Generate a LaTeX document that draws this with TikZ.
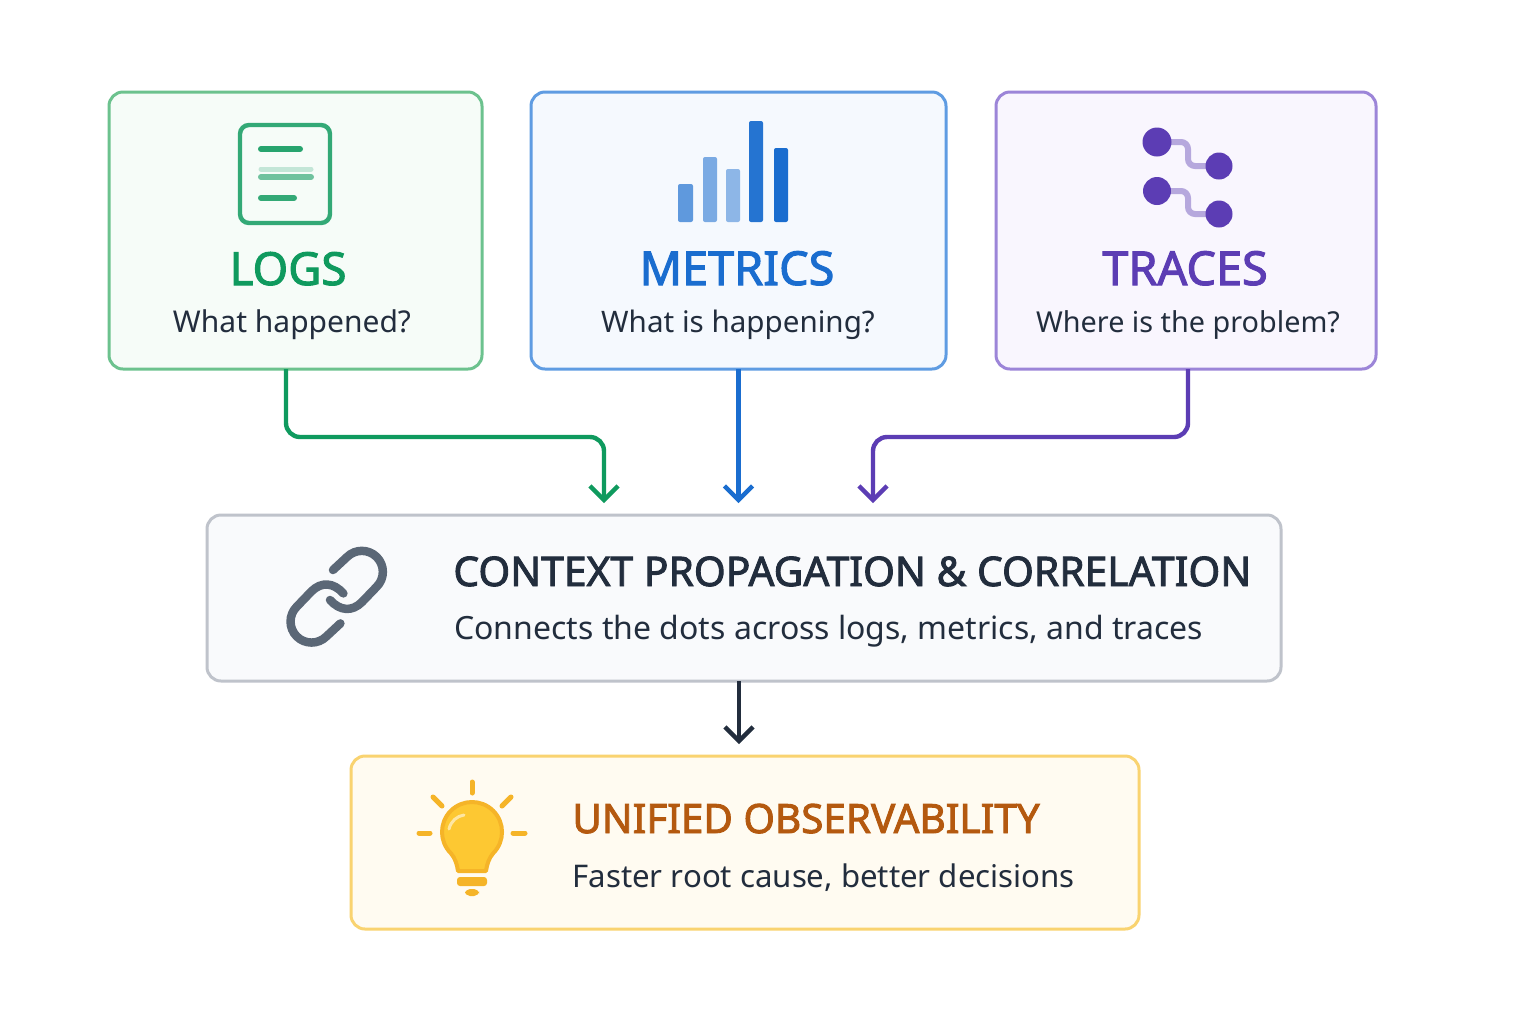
\documentclass[tikz,border=0pt]{standalone}
\usepackage{fontspec}
\setmainfont{Noto Sans}
\newfontfamily\titlefont[FakeBold=2.2]{Noto Sans}
\usetikzlibrary{calc,arrows.meta}
\definecolor{logsc}{HTML}{0F9A5E}
\definecolor{logsb}{HTML}{6CC28E}
\definecolor{logsf}{HTML}{F6FCF8}
\definecolor{metc}{HTML}{1A6DCF}
\definecolor{metb}{HTML}{5F9CE2}
\definecolor{metf}{HTML}{F5F9FE}
\definecolor{trac}{HTML}{5C3DB4}
\definecolor{trab}{HTML}{9C85D8}
\definecolor{traf}{HTML}{F9F6FE}
\definecolor{ctxc}{HTML}{222D3D}
\definecolor{ctxb}{HTML}{BFC3CB}
\definecolor{ctxf}{HTML}{F9FAFC}
\definecolor{ctxi}{HTML}{5B6776}
\definecolor{resc}{HTML}{B4590F}
\definecolor{resb}{HTML}{F9D370}
\definecolor{resf}{HTML}{FFFBF1}
\definecolor{bulbc}{HTML}{F5B428}
\definecolor{bulbf}{HTML}{FDC832}
\begin{document}
\begin{tikzpicture}[%
    x=0.5pt,y=-0.5pt,%
    cardbox/.style={draw,line width=1.5pt,rounded corners=7pt,anchor=north west,inner sep=0pt,outer sep=0pt},%
    title/.style={inner sep=0pt,anchor=base,font=\titlefont\fontsize{#1}{24pt}\selectfont},%
    subtitle/.style={inner sep=0pt,anchor=base,text=ctxc,font=\fontsize{#1}{19pt}\selectfont},%
    flow/.style={line width=2.2pt,rounded corners=7pt,-{Straight Barb[length=7pt,width=14pt,line join=miter]}},%
    bar/.style={rounded corners=1pt},%
    ray/.style={draw=bulbc,line width=2.5pt,line cap=round},%
    link/.style={trac!45,line width=3pt,rounded corners=3.5pt}%
    ]
    \useasboundingbox[fill=white] (0,0) rectangle (1536,1024);

    %
    % Boîtes
    %
    \node[cardbox,draw=logsb,fill=logsf,minimum width=186.5pt,minimum height=138.5pt] (logs) at (109,92) {};
    \node[cardbox,draw=metb,fill=metf,minimum width=207.5pt,minimum height=138.5pt] (metrics) at (531,92) {};
    \node[cardbox,draw=trab,fill=traf,minimum width=190pt,minimum height=138.5pt] (traces) at (996,92) {};
    \node[cardbox,draw=ctxb,fill=ctxf,minimum width=537pt,minimum height=83pt] (context) at (207,515) {};
    \node[cardbox,draw=resb,fill=resf,minimum width=394pt,minimum height=86.5pt] (unified) at (351,756) {};

    % Textes
    \node[title=22.8pt,text=logsc] (logstitle) at (288,285) {LOGS};
    \node[subtitle=15pt] (logstext) at (292,332) {What happened?};
    \node[title=23.4pt,text=metc] (mettitle) at (737,285) {METRICS};
    \node[subtitle=14.8pt] (mettext) at (738,332) {What is happening?};
    \node[title=23.4pt,text=trac] (tratitle) at (1185,285) {TRACES};
    \node[subtitle=14.4pt] (tratext) at (1188,332) {Where is the problem?};
    \node[title=20.4pt,text=ctxc,anchor=base west] (ctxtitle) at (453,586) {CONTEXT PROPAGATION \& CORRELATION};
    \node[subtitle=16pt,anchor=base west] (ctxtext) at (454,639) {Connects the dots across logs, metrics, and traces};
    \node[title=20.2pt,text=resc,anchor=base west] (restitle) at (572,833) {UNIFIED OBSERVABILITY};
    \node[subtitle=15.6pt,anchor=base west] (restext) at (572,887) {Faster root cause, better decisions};

    %
    % Flèches
    %
    \coordinate (logsend) at (604,503);
    \coordinate (traend) at (873,503);

    \draw[flow,logsc] ($(logs.south)+(-9.5,0)$) -- ++(0,68) -| (logsend);
    \draw[flow,metc] (metrics.south) -- ++(0,134);
    \draw[flow,trac] ($(traces.south)+(2,0)$) -- ++(0,68) -| (traend);
    \draw[flow,ctxc] ($(context.south)+(-5,0)$) -- ++(0,63);

    %
    % Icônes
    %
    % Journal
    \draw[logsc!85,line width=2.2pt,rounded corners=4.5pt,fill=logsf] (240,125) rectangle (330,223);
    \draw[logsc!90,line width=3pt,line cap=round] (261,149) -- (300,149);
    \draw[logsc!25,line width=2.5pt,line cap=round] (261,169) -- (311,169);
    \draw[logsc!60,line width=3pt,line cap=round] (261,177) -- (311,177);
    \draw[logsc!85,line width=3pt,line cap=round] (261,198) -- (294,198);

    % Barres
    \fill[bar,metc!70] (678,184) rectangle (693,222);
    \fill[bar,metc!58] (703,157) rectangle (717,222);
    \fill[bar,metc!50] (726,169) rectangle (740,222);
    \fill[bar,metc!95] (749,121) rectangle (763,222);
    \fill[bar,metc] (774,148) rectangle (788,222);

    % Traces
    \draw[link] (1157,142) -- (1188,142) -- (1188,166) -- (1219,166);
    \draw[link] (1157,191) -- (1188,191) -- (1188,214) -- (1219,214);
    \fill[trac] (1157,142) circle[radius=14.5];
    \fill[trac] (1219,166) circle[radius=13.5];
    \fill[trac] (1157,191) circle[radius=14];
    \fill[trac] (1219,214) circle[radius=13.5];

    % Maillons
    \foreach \ang in {0,180} {
        \draw[ctxi,line width=4.25pt,line cap=round,rotate around={\ang:(336.7,596.7)}]
            (333,570) -- (347,557) arc[start angle=225,end angle=405,radius=21]
            -- (362,602) .. controls (352,612) and (340,611) .. (330,600);
    }

    % Ampoule
    \draw[ray] (472,782) -- (472,793);
    \draw[ray] (433,797) -- (442,806);
    \draw[ray] (511,797) -- (502,806);
    \draw[ray] (419,833) -- (430,833);
    \draw[ray] (513,833) -- (525,833);
    \draw[bulbc,fill=bulbf,line width=2pt,line join=round]
        (458,871) .. controls (457,864) and (455,858) .. (450.8,853.2)
        arc[start angle=135,end angle=405,radius=30]
        .. controls (489,858) and (487,864) .. (486,871) -- cycle;
    \draw[white,opacity=.55,line width=1.5pt,line cap=round] (449,829) .. controls (451,821) and (457,816) .. (464,815);
    \fill[bulbc,rounded corners=1.5pt] (457,877) rectangle (487,886);
    \fill[bulbc,rounded corners=2.5pt] (465,889) rectangle (479,896);

\end{tikzpicture}
\end{document}
